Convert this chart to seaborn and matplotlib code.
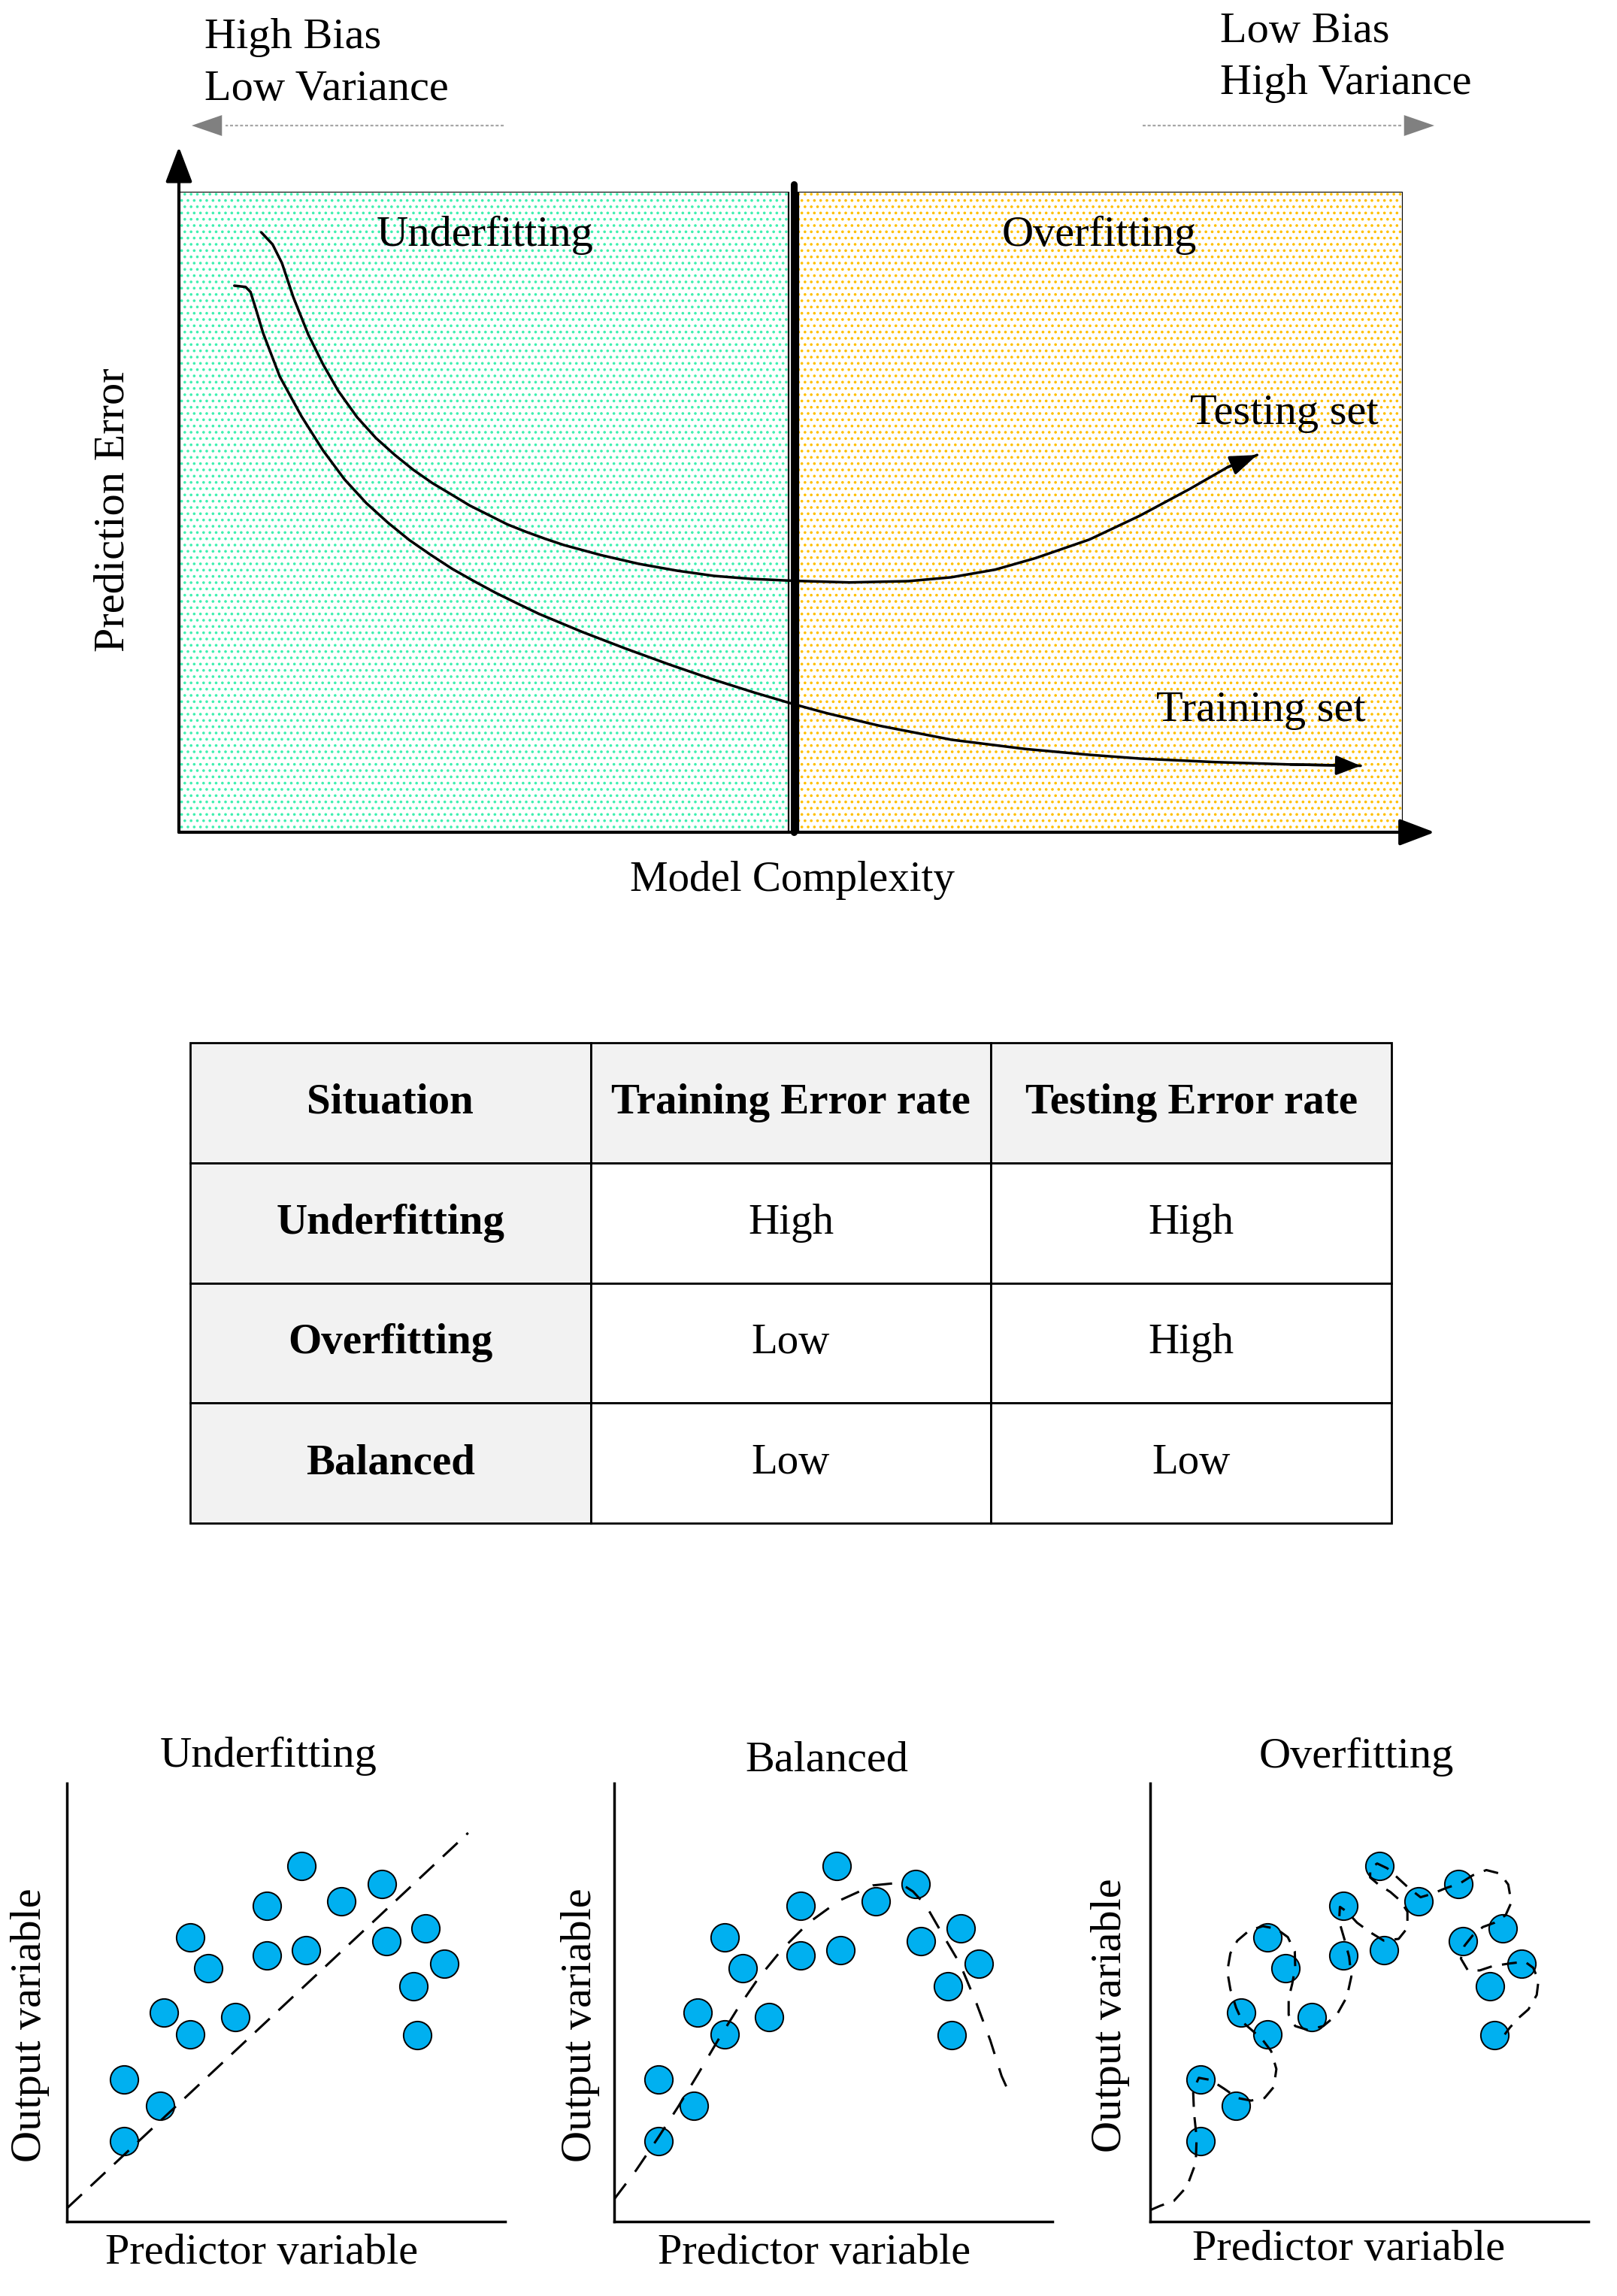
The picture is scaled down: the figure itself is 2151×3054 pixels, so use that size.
import matplotlib
matplotlib.use('Agg')
import matplotlib.pyplot as plt
import seaborn as sns

# ---- dados ----
# curvas do painel de cima (fração da caixa: x = complexidade, y = erro)
test_x = [0.0673, 0.0765, 0.0842, 0.0934, 0.1057, 0.1179, 0.1302, 0.1456, 0.1609, 0.1763,
          0.1916, 0.2070, 0.2224, 0.2377, 0.2531, 0.2684, 0.2838, 0.2991, 0.3145, 0.3452,
          0.3759, 0.4066, 0.4373, 0.4681, 0.5018, 0.548, 0.596, 0.631, 0.667, 0.700,
          0.744, 0.785, 0.826, 0.857, 0.881]
test_y = [0.9366, 0.9178, 0.8885, 0.8357, 0.7770, 0.7300, 0.6890, 0.6479, 0.6156, 0.5892,
          0.5657, 0.5452, 0.5276, 0.5100, 0.4953, 0.4806, 0.4689, 0.4583, 0.4484, 0.4325,
          0.4190, 0.4085, 0.4002, 0.3955, 0.3926, 0.3900, 0.3920, 0.3980, 0.4100, 0.4280,
          0.4570, 0.4940, 0.5360, 0.5700, 0.5890]
train_x = [0.0453, 0.0545, 0.0585, 0.0627, 0.0688, 0.0824, 0.1001, 0.1177, 0.1353, 0.1530,
           0.1706, 0.1882, 0.2058, 0.2235, 0.2411, 0.2587, 0.2764, 0.2940, 0.3292, 0.3646,
           0.3998, 0.4351, 0.4703, 0.5031, 0.5295, 0.5719, 0.6314, 0.6916, 0.7445, 0.7854,
           0.8469, 0.9083, 0.9656]
train_y = [0.8533, 0.8513, 0.8435, 0.8181, 0.7793, 0.7115, 0.6495, 0.5962, 0.5509, 0.5141,
           0.4836, 0.4563, 0.4330, 0.4110, 0.3920, 0.3739, 0.3573, 0.3411, 0.3130, 0.2870,
           0.2625, 0.2393, 0.2180, 0.1995, 0.1858, 0.1665, 0.1444, 0.1300, 0.1208, 0.1150,
           0.1095, 0.1058, 0.1038]

# tabela
table_cols = ['Situation', 'Training Error rate', 'Testing Error rate']
situations = ['Underfitting', 'Overfitting', 'Balanced']
train_err = ['High', 'Low', 'Low']
test_err = ['High', 'High', 'Low']

# pontos dos três gráficos de baixo (escala 0-10)
out_y = [1.83, 3.25, 2.64, 4.76, 4.27, 6.49, 5.78, 4.66, 7.21, 6.08,
         8.12, 6.19, 7.30, 7.71, 6.39, 5.37, 6.69, 4.26, 5.89]
x_under = [1.30, 1.30, 2.13, 2.21, 2.82, 2.82, 3.23, 3.84, 4.56, 4.56,
           5.36, 5.45, 6.26, 7.18, 7.29, 7.90, 8.19, 8.00, 8.61]
x_bal = [1.01, 1.01, 1.82, 1.91, 2.53, 2.53, 2.93, 3.54, 4.26, 4.26,
         5.07, 5.17, 5.97, 6.88, 6.99, 7.62, 7.90, 7.71, 8.32]
x_over = [1.15, 1.15, 1.96, 2.07, 2.68, 2.68, 3.09, 3.68, 4.41, 4.41,
          5.23, 5.33, 6.13, 7.04, 7.13, 7.75, 8.05, 7.86, 8.47]

# curvas ajustadas (tracejadas)
fit_under_x = [0.005, 9.156]
fit_under_y = [0.307, 8.868]
fit_bal_x = [0.00, 0.50, 1.00, 1.46, 1.91, 2.37, 2.83, 3.29, 3.83, 4.44, 5.13,
             5.90, 6.51, 6.82, 7.12, 7.50, 7.89, 8.27, 8.58, 8.84, 9.02]
fit_bal_y = [0.51, 1.17, 1.91, 2.62, 3.36, 4.14, 4.88, 5.55, 6.21, 6.82, 7.32,
             7.67, 7.73, 7.53, 7.20, 6.54, 5.88, 4.97, 4.14, 3.32, 2.92]
fit_over_x = [0.00, 0.23, 0.54, 0.84, 1.04, 1.06, 1.00, 0.98, 1.11, 1.38,
              1.69, 1.99, 2.30, 2.61, 2.82, 2.88, 2.76, 2.57, 2.34, 2.11,
              1.96, 1.83, 1.76, 1.83, 1.99, 2.26, 2.57, 2.88, 3.14, 3.30,
              3.31, 3.24, 3.16, 3.16, 3.31, 3.60, 3.95, 4.26, 4.49, 4.59,
              4.54, 4.43, 4.31, 4.33, 4.49, 4.72, 5.02, 5.33, 5.67, 5.87,
              5.87, 5.71, 5.48, 5.21, 5.02, 5.02, 5.18, 5.41, 5.64, 5.90,
              6.17, 6.44, 6.75, 7.06, 7.36, 7.67, 7.98, 8.17, 8.24, 8.11,
              7.86, 7.59, 7.36, 7.17, 7.09, 7.25, 7.52, 7.82, 8.21, 8.55,
              8.74, 8.86, 8.82, 8.63, 8.40, 8.21, 8.09]
fit_over_y = [0.26, 0.36, 0.47, 0.80, 1.34, 1.91, 2.49, 2.99, 3.28, 3.23,
              3.03, 2.82, 2.76, 2.82, 3.07, 3.48, 3.89, 4.14, 4.35, 4.55,
              4.88, 5.30, 5.71, 6.12, 6.41, 6.64, 6.74, 6.68, 6.49, 6.16,
              5.79, 5.42, 5.09, 4.72, 4.46, 4.37, 4.46, 4.72, 5.13, 5.59,
              6.04, 6.45, 6.86, 7.18, 7.07, 6.82, 6.60, 6.41, 6.45, 6.70,
              7.07, 7.32, 7.52, 7.69, 7.85, 8.06, 8.17, 8.06, 7.85, 7.61,
              7.40, 7.48, 7.61, 7.71, 7.90, 8.02, 7.94, 7.69, 7.28, 6.99,
              6.82, 6.72, 6.53, 6.29, 6.00, 5.73, 5.73, 5.83, 5.89, 5.93,
              5.79, 5.50, 5.17, 4.84, 4.64, 4.43, 4.27]

W, H = 2151, 3054
FS = 42
GREEN = '#3ff0b0'
ORANGE = '#ffc000'
BLUE = '#00b0f0'


def px_rect(left, top, right, bottom):
    """Converte caixa em pixels (origem no topo) para fração da figura"""
    return [left / W, 1 - bottom / H, (right - left) / W, (bottom - top) / H]


def seta(ax, xy, xytext, cor='black', lw=2.5, hl=22, hw=8, coords='data'):
    ax.annotate('', xy=xy, xytext=xytext, xycoords=coords, textcoords=coords,
                arrowprops=dict(arrowstyle=f'-|>,head_length={hl},head_width={hw}',
                                mutation_scale=1, color=cor, lw=lw,
                                shrinkA=0, shrinkB=0))


def painel_erro(fig):
    """Painel de cima: erro de predição x complexidade"""
    # setas cinzas pontilhadas (coordenadas em pixels)
    bg = fig.add_axes([0, 0, 1, 1])
    bg.set_xlim(0, W)
    bg.set_ylim(H, 0)
    bg.axis('off')
    for x0, x1, tip in [(670, 300, 255), (1520, 1865, 1908)]:
        ln, = bg.plot([x0, x1], [167, 167], color='#a6a6a6', lw=1.6)
        ln.set_dashes([1.8, 1.2])
        seta(bg, (tip, 167), (x1 + (x1 - tip) * 0.2, 167), cor='#808080', lw=0, hl=29, hw=10)
    bg.text(272, 24, 'High Bias\nLow Variance', ha='left', va='top',
            fontsize=FS, linespacing=1.42)
    bg.text(1623, 16, 'Low Bias\nHigh Variance', ha='left', va='top',
            fontsize=FS, linespacing=1.42)

    ax = fig.add_axes(px_rect(238, 255, 1866, 1107))
    ax.set_xlim(0, 1)
    ax.set_ylim(0, 1)
    ax.axis('off')

    split = 0.5025
    left_end, right_start = 0.498, 0.506
    ax.axvspan(0, left_end, facecolor='white', edgecolor=GREEN, hatch='..', lw=0, zorder=0)
    ax.axvspan(right_start, 1, facecolor='white', edgecolor=ORANGE, hatch='..', lw=0, zorder=0)
    ax.axvspan(0, left_end, fill=False, edgecolor='black', lw=1.6, zorder=1)
    ax.axvspan(right_start, 1, fill=False, edgecolor='black', lw=1.6, zorder=1)
    ax.axvline(split, 0, 1.012, color='black', lw=6.5, solid_capstyle='round',
               clip_on=False, zorder=3)

    # eixos com setas
    seta(ax, (0, 1.070), (0, 0), lw=3, hl=29, hw=11, coords='axes fraction')
    seta(ax, (1.026, 0), (0, 0), lw=3, hl=29, hw=11, coords='axes fraction')

    sns.lineplot(x=test_x, y=test_y, ax=ax, color='black', lw=2.5,
                 sort=False, estimator=None, zorder=4)
    sns.lineplot(x=train_x, y=train_y, ax=ax, color='black', lw=2.5,
                 sort=False, estimator=None, zorder=4)
    for ln in ax.lines[-2:]:
        ln.set_solid_joinstyle('round')
    seta(ax, (test_x[-1], test_y[-1]), (test_x[-2], test_y[-2]), hl=22, hw=8)
    seta(ax, (train_x[-1], train_y[-1]), (train_x[-2], train_y[-2]), hl=20, hw=8)

    ax.text(0.250, 0.9155, 'Underfitting', ha='center', va='baseline', fontsize=FS)
    ax.text(0.752, 0.9155, 'Overfitting', ha='center', va='baseline', fontsize=FS)
    ax.text(0.903, 0.637, 'Testing set', ha='center', va='baseline', fontsize=FS)
    ax.text(0.884, 0.174, 'Training set', ha='center', va='baseline', fontsize=FS)
    ax.text(0.501, -0.0915, 'Model Complexity', ha='center', va='baseline', fontsize=FS - 1)
    ax.text(-0.054, 0.503, 'Prediction Error', ha='center', va='center',
            rotation=90, fontsize=FS)


def tabela(fig):
    ax = fig.add_axes(px_rect(253, 1387, 1851, 2026))
    ax.axis('off')
    cell_text = [[s, a, b] for s, a, b in zip(situations, train_err, test_err)]
    tab = ax.table(cellText=cell_text, colLabels=table_cols, cellLoc='center',
                   bbox=[0, 0, 1, 1])
    tab.auto_set_font_size(False)
    for (r, c), cell in tab.get_celld().items():
        cell.set_linewidth(2)
        cell.set_edgecolor('black')
        txt = cell.get_text()
        txt.set_fontsize(41)
        if r == 0 or c == 0:
            cell.set_facecolor('#f2f2f2')
            txt.set_fontweight('bold')


def painel_ajuste(fig, rect, xs, fx, fy, titulo, dash, tpos, xlpos, ylpos):
    ax = fig.add_axes(rect)
    sns.scatterplot(x=xs, y=out_y, ax=ax, s=720, color=BLUE, edgecolor='black',
                    linewidth=1.4, zorder=3, clip_on=False)
    sns.lineplot(x=fx, y=fy, ax=ax, color='black', lw=2.2, sort=False,
                 estimator=None, zorder=4)
    ax.lines[-1].set_dashes(dash)
    ax.set_xlim(0, 10)
    ax.set_ylim(0, 10)
    ax.set_xticks([])
    ax.set_yticks([])
    ax.set_xlabel('')
    ax.set_ylabel('')
    sns.despine(ax=ax)
    for s in ['left', 'bottom']:
        ax.spines[s].set_linewidth(2.5)
        ax.spines[s].set_color('black')
    ax.text(tpos[0], tpos[1], titulo, transform=ax.transAxes, ha='center',
            va='center', fontsize=FS)
    ax.text(xlpos[0], xlpos[1], 'Predictor variable', transform=ax.transAxes,
            ha='center', va='center', fontsize=FS)
    ax.text(ylpos[0], ylpos[1], 'Output variable', transform=ax.transAxes,
            ha='center', va='center', rotation=90, fontsize=FS)


def main():
    sns.set_theme(style='white')
    plt.rcParams['font.family'] = ['Liberation Serif', 'DejaVu Serif']
    plt.rcParams['hatch.linewidth'] = 1.4
    plt.rcParams['text.color'] = 'black'

    fig = plt.figure(figsize=(W / 100, H / 100), dpi=100)
    fig.patch.set_facecolor('white')

    painel_erro(fig)
    tabela(fig)

    painel_ajuste(fig, px_rect(89, 2372, 672, 2955), x_under, fit_under_x, fit_under_y,
                  'Underfitting', [8.8, 5.2], (0.46, 1.062), (0.444, -0.072), (-0.084, 0.448))
    painel_ajuste(fig, px_rect(817, 2372, 1400, 2955), x_bal, fit_bal_x, fit_bal_y,
                  'Balanced', [8.5, 6.5], (0.485, 1.053), (0.456, -0.072), (-0.077, 0.448))
    painel_ajuste(fig, px_rect(1530, 2372, 2113, 2955), x_over, fit_over_x, fit_over_y,
                  'Overfitting', [6.5, 4.5], (0.47, 1.06), (0.453, -0.064), (-0.091, 0.47))

    fig.savefig('out.png', dpi=100, facecolor='white')
    plt.close(fig)


if __name__ == '__main__':
    main()
